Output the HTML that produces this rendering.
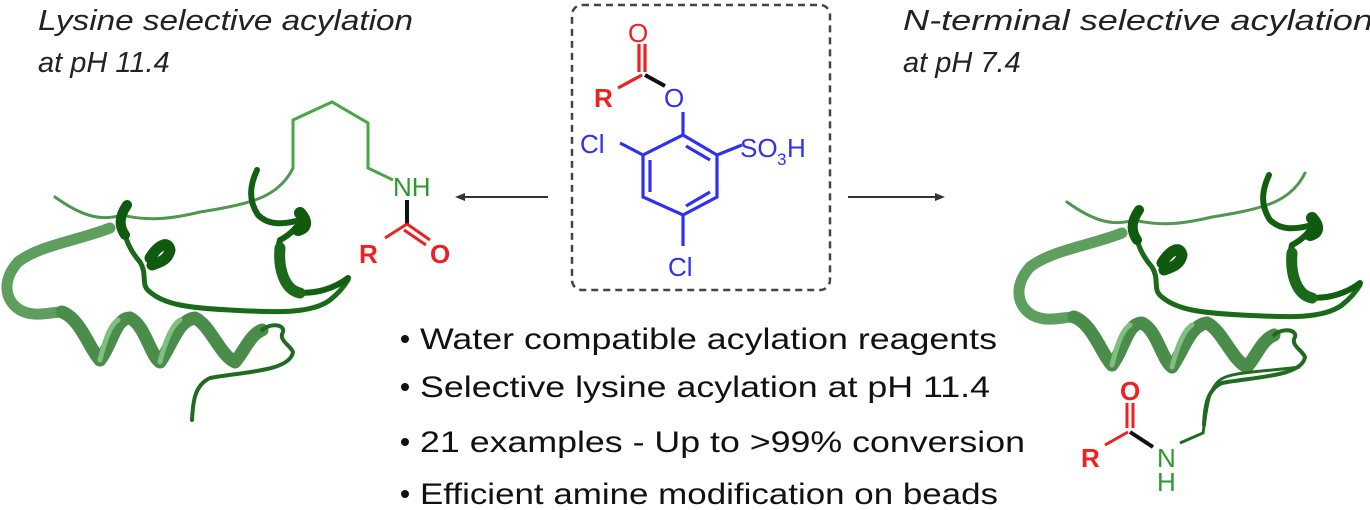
<!DOCTYPE html>
<html><head><meta charset="utf-8"><style>
html,body{margin:0;padding:0;background:#fff;}
svg{display:block;}
text{font-family:"Liberation Sans",Arial,sans-serif;}
</style></head><body>
<svg width="1370" height="510" viewBox="0 0 1370 510" xmlns="http://www.w3.org/2000/svg">
<defs>
<g id="prot" fill="none" stroke-linecap="round" stroke-linejoin="round">
  <path d="M110,228 C80,240 40,245 18,262 C2,280 4,300 20,310 C35,318 50,312 62,312" stroke="#5e9e5e" stroke-width="11"/>
  <path d="M62,312 C80,318 90,350 100,360 C112,345 115,318 130,318 C145,325 150,355 160,362 C172,345 178,320 195,318 C210,325 220,355 235,362 C245,350 250,335 262,330" stroke="#4a8c4a" stroke-width="13"/>
  <path d="M100,360 C105,340 110,325 118,320 M160,362 C165,342 172,325 180,320" stroke="#7fbf7f" stroke-width="5"/>
  <path d="M262,330 C272,322 285,325 283,332 C278,340 290,345 293,352 C290,372 240,372 210,378 C195,385 193,400 192,420" stroke="#1f6b1f" stroke-width="4"/>
  <path d="M55,197 C80,215 100,222 122,215 C150,222 175,218 200,212 C225,208 240,205 255,200 C270,195 285,185 293,168" stroke="#4f974f" stroke-width="3"/>
  <path d="M127,205 C118,220 125,245 140,262 C148,275 140,285 150,292 C165,305 190,308 230,310 C270,312 310,315 330,300 C340,292 345,285 348,280" stroke="#1a6a1a" stroke-width="5"/>
  <path d="M127,205 C120,215 118,225 125,235" stroke="#0f5a0f" stroke-width="10"/>
  <path d="M150,258 C158,245 168,240 170,250 C168,260 160,262 152,265" stroke="#0f5a0f" stroke-width="11"/>
  <path d="M257,170 C250,185 248,200 258,215 C268,225 282,225 300,220 M305,215 C300,225 290,235 280,240 C275,260 280,285 295,292 C315,295 335,288 348,278" stroke="#125f12" stroke-width="6"/>
  <path d="M300,213 C308,222 306,228 298,230" stroke="#0f5a0f" stroke-width="12"/>
  <path d="M280,248 C278,270 285,290 300,293" stroke="#1a6a1a" stroke-width="11"/>
</g>
</defs>

<text x="38" y="30" font-size="29" font-style="italic" fill="#222" textLength="375" lengthAdjust="spacingAndGlyphs">Lysine selective acylation</text>
<text x="38" y="72" font-size="29" font-style="italic" fill="#222">at pH 11.4</text>
<text x="903" y="30" font-size="29" font-style="italic" fill="#222" textLength="470" lengthAdjust="spacingAndGlyphs">N-terminal selective acylation</text>
<text x="903" y="72" font-size="29" font-style="italic" fill="#222">at pH 7.4</text>

<use href="#prot"/>
<path d="M293,168 L293,120 L332,102 L368,123 L368,168 L393,180" fill="none" stroke="#45a845" stroke-width="3"/>
<text x="393" y="196" font-size="26" fill="#2a9a2a">NH</text>
<line x1="407" y1="200" x2="407" y2="224" stroke="#111" stroke-width="4"/>
<path d="M407,224 L385,238" stroke="#f02020" stroke-width="3"/>
<path d="M407,224 L430,240 M404,230 L426,245" stroke="#f02020" stroke-width="3"/>
<text x="359" y="263" font-size="26" font-weight="bold" fill="#f02020">R</text>
<text x="430" y="263" font-size="26" font-weight="bold" fill="#f02020">O</text>

<line x1="548" y1="197" x2="462" y2="197" stroke="#333" stroke-width="2"/>
<path d="M455,197 L465,193 L465,201 Z" fill="#333"/>
<line x1="848" y1="197" x2="938" y2="197" stroke="#333" stroke-width="2"/>
<path d="M945,197 L935,193 L935,201 Z" fill="#333"/>

<rect x="572" y="5" width="258" height="285" rx="10" fill="none" stroke="#444" stroke-width="2.5" stroke-dasharray="7,5"/>
<g fill="none" stroke-width="3.2">
  <path d="M645,44 L645,72 M639,44 L639,72" stroke="#f02020"/>
  <path d="M642,75 L618,88" stroke="#f02020"/>
  <path d="M645,75 L665,86" stroke="#111" stroke-width="4"/>
  <path d="M683,112 L683,135" stroke="#3030f0"/>
  <path d="M683,135 L717,155 L717,197 L683,215 L643,197 L643,155 Z" stroke="#3030f0"/>
  <path d="M686,146 L710,160 M710,192 L686,206 M650,160 L650,192" stroke="#3030f0"/>
  <path d="M643,155 L620,143 M717,155 L742,145 M683,215 L683,246" stroke="#3030f0"/>
</g>
<text x="628" y="42" font-size="26" fill="#f02020">O</text>
<text x="594" y="107" font-size="26" font-weight="bold" fill="#f02020">R</text>
<text x="664" y="107" font-size="26" fill="#3030f0">O</text>
<text x="580" y="153" font-size="26" fill="#3030f0">Cl</text>
<text x="740" y="157" font-size="26" fill="#3030f0">SO</text>
<text x="777" y="165" font-size="17" fill="#3030f0">3</text>
<text x="787" y="157" font-size="26" fill="#3030f0">H</text>
<text x="668" y="276" font-size="26" fill="#3030f0">Cl</text>

<g font-size="30" fill="#111">
<circle cx="405" cy="339" r="4" fill="#111"/>
<text x="420" y="349" textLength="577" lengthAdjust="spacingAndGlyphs">Water compatible acylation reagents</text>
<circle cx="405" cy="387" r="4" fill="#111"/>
<text x="420" y="397" textLength="570" lengthAdjust="spacingAndGlyphs">Selective lysine acylation at pH 11.4</text>
<circle cx="405" cy="442" r="4" fill="#111"/>
<text x="420" y="452" textLength="605" lengthAdjust="spacingAndGlyphs">21 examples - Up to &gt;99% conversion</text>
<circle cx="405" cy="494" r="4" fill="#111"/>
<text x="420" y="504" textLength="578" lengthAdjust="spacingAndGlyphs">Efficient amine modification on beads</text>
</g>

<g transform="translate(1012,5)">
<use href="#prot"/>
</g>
<path d="M1300,367 C1260,372 1230,372 1220,380 C1207,390 1207,410 1203,433 L1180,443" fill="none" stroke="#1f6b1f" stroke-width="3"/>
<text x="1157" y="467" font-size="26" fill="#2a9a2a">N</text>
<text x="1157" y="491" font-size="26" fill="#2a9a2a">H</text>
<path d="M1127,403 L1127,428 M1133,403 L1133,428" stroke="#f02020" stroke-width="3"/>
<path d="M1128,432 L1105,445" stroke="#f02020" stroke-width="3"/>
<path d="M1130,432 L1153,447" stroke="#111" stroke-width="4"/>
<text x="1120" y="400" font-size="26" font-weight="bold" fill="#f02020">O</text>
<text x="1081" y="467" font-size="26" font-weight="bold" fill="#f02020">R</text>
</svg>
</body></html>
